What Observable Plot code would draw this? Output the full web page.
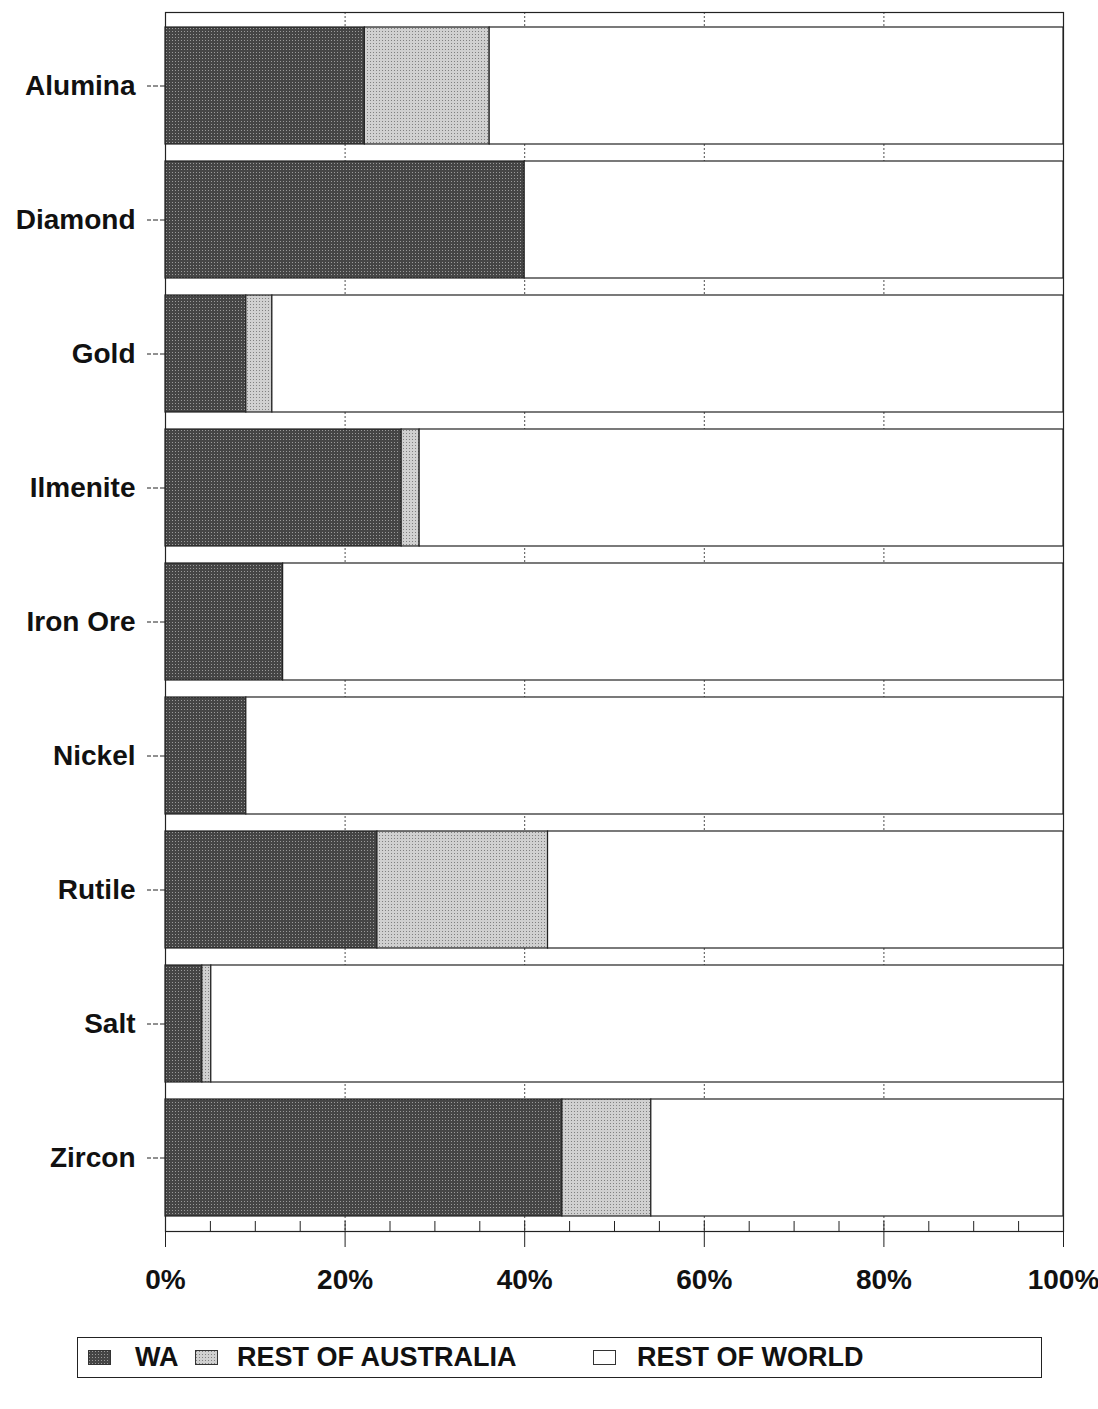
<!DOCTYPE html>
<html>
<head>
<meta charset="utf-8">
<script src="https://cdn.jsdelivr.net/npm/d3@7"></script>
<script src="https://cdn.jsdelivr.net/npm/@observablehq/plot@0.6"></script>
<style>
  html, body { margin: 0; padding: 0; background: #fff; }
  #wrap { position: relative; width: 1098px; height: 1409px; font-family: "Liberation Sans", Arial, sans-serif; }
  #legend { position: absolute; left: 77px; top: 1337px; width: 965px; height: 41px; border: 1px solid #222; box-sizing: border-box; font-weight: bold; font-size: 27px; color: #111; }
  .item { position: absolute; top: 0; height: 39px; display: flex; align-items: center; }
  .item svg { display: block; }
</style>
</head>
<body>
<div id="wrap">
  <div id="chart"></div>
  <div id="legend"></div>
</div>
<script>
const categories = ["Alumina", "Diamond", "Gold", "Ilmenite", "Iron Ore", "Nickel", "Rutile", "Salt", "Zircon"];
const seriesNames = ["WA", "REST OF AUSTRALIA", "REST OF WORLD"];
const waValues = [22.2, 40.0, 9.0, 26.3, 13.1, 9.0, 23.6, 4.1, 44.2];
const restAusValues = [13.9, 0, 2.9, 2.0, 0, 0, 19.0, 1.0, 9.9];
const restWorldValues = [63.9, 60.0, 88.1, 71.7, 86.9, 91.0, 57.4, 94.9, 45.9];
const majorTicks = [0, 20, 40, 60, 80, 100];
const minorTicks = [0, 5, 10, 15, 20, 25, 30, 35, 40, 45, 50, 55, 60, 65, 70, 75, 80, 85, 90, 95, 100];

const seriesValues = [waValues, restAusValues, restWorldValues];
const rows = [];
categories.forEach((c, i) => {
  seriesNames.forEach((s, j) => {
    const v = seriesValues[j][i];
    if (v > 0) rows.push({category: c, series: s, value: v});
  });
});

const fills = ["url(#pWA)", "url(#pRoA)", "#ffffff"];

const chart = Plot.plot({
  width: 1098,
  height: 1300,
  marginTop: 12,
  marginBottom: 69,
  marginLeft: 165,
  marginRight: 35,
  style: {fontFamily: "'Liberation Sans', Arial, sans-serif", background: "white", color: "#111"},
  x: {domain: [0, 100], label: null},
  y: {domain: categories, paddingInner: 0.13, paddingOuter: 0.08, label: null},
  color: {domain: seriesNames, range: fills},
  marks: [
    Plot.gridX(majorTicks.slice(1, -1), {stroke: "#222", strokeOpacity: 0.8, strokeDasharray: "2,2", strokeWidth: 1}),
    Plot.frame({stroke: "#222", strokeWidth: 1.2}),
    Plot.barX(rows, Plot.stackX({x: "value", y: "category", fill: "series", order: seriesNames, stroke: "#222", strokeWidth: 1.2})),
    Plot.axisX({ticks: minorTicks, tickSize: 10, dy: -10, tickFormat: () => "", label: null, stroke: "#222"}),
    Plot.axisX({ticks: majorTicks, tickSize: 16, tickPadding: 22, tickFormat: d => d + "%", label: null, fontSize: 28, fontWeight: "bold", stroke: "#222"}),
    Plot.axisY({tickSize: 18, tickPadding: 12, label: null, fontSize: 28, fontWeight: "bold", stroke: "#222", strokeDasharray: "5,2"})
  ]
});

const ns = "http://www.w3.org/2000/svg";
const defs = document.createElementNS(ns, "defs");
defs.innerHTML = `
  <pattern id="pWA" patternUnits="userSpaceOnUse" width="3" height="3">
    <rect width="3" height="3" fill="#454545"></rect>
    <rect x="1" y="1" width="1" height="1" fill="#9a9a9a"></rect>
  </pattern>
  <pattern id="pRoA" patternUnits="userSpaceOnUse" width="3" height="3">
    <rect width="3" height="3" fill="#d0d0d0"></rect>
    <rect x="1" y="1" width="1" height="1" fill="#808080"></rect>
  </pattern>`;
chart.insertBefore(defs, chart.firstChild);
document.getElementById("chart").appendChild(chart);

// Legend
const legendItems = [
  {name: seriesNames[0], fill: fills[0], sx: 10, tx: 57},
  {name: seriesNames[1], fill: fills[1], sx: 117, tx: 159},
  {name: seriesNames[2], fill: fills[2], sx: 515, tx: 559}
];
const legend = document.getElementById("legend");
legendItems.forEach(it => {
  const sw = document.createElement("div");
  sw.className = "item";
  sw.style.left = it.sx + "px";
  sw.innerHTML = `<svg width="24" height="16"><rect x="0.5" y="0.5" width="22" height="14" fill="${it.fill}" stroke="#333" stroke-width="1"></rect></svg>`;
  legend.appendChild(sw);
  const tx = document.createElement("div");
  tx.className = "item";
  tx.style.left = it.tx + "px";
  tx.textContent = it.name;
  legend.appendChild(tx);
});
</script>
</body>
</html>
